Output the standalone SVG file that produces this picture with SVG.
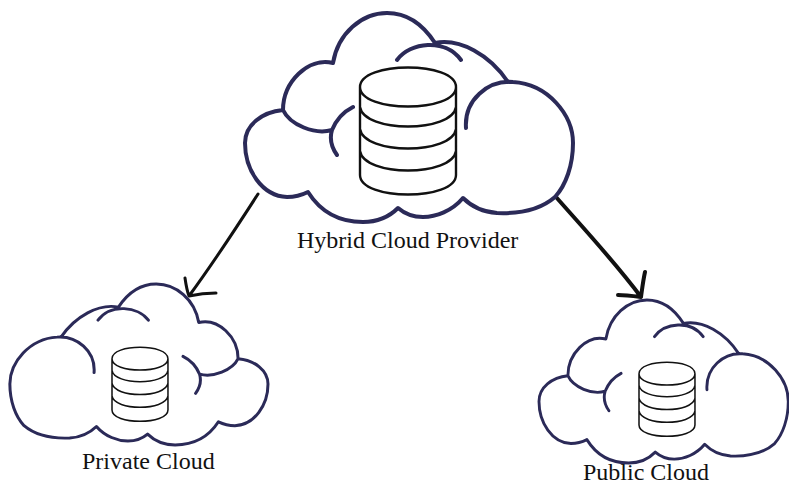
<svg xmlns="http://www.w3.org/2000/svg" width="789" height="485" viewBox="0 0 789 485">
<style>
.cl{fill:none;stroke:#2b2a58;stroke-linecap:round;stroke-linejoin:round}
.db{fill:none;stroke:#111;stroke-linecap:round;stroke-linejoin:round}
.lb{font-family:"Liberation Serif","Times New Roman",serif;fill:#111;font-size:24px}
.ar{fill:none;stroke:#111;stroke-linecap:round;stroke-linejoin:round}
</style>
<defs>
<path id="cloud" d="M283 110C283 82 308 57 333 63C338 33 362 13 387 13C408 13 424 26 435 43C460 38 490 55 508 82M466 128C464 100 488 80 513 82C548 84 573 115 573 143C573 165 566 185 555 197C540 210 520 214 497 213C483 212 472 207 463 198C452 211 436 217 423 217C413 217 405 214 398 208C389 217 376 222 363 222C338 222 320 211 308 192C300 196 294 197 287 197C262 196 245 170 245 143C245 125 262 112 283 110C290 125 315 135 332 130C337 118 345 111 353 107M332 130C329 140 332 148 337 155M397 60C410 42 445 38 461 60"/>
<path id="db" d="M0 20C0 -6 96 -6 96 20C96 46 0 46 0 20ZM0 20V108C0 134 96 134 96 108V20M0 40C4 66 92 66 96 40M0 62C4 88 92 88 96 62M0 84C4 110 92 110 96 84"/>
</defs>
<rect width="789" height="485" fill="#fff"/>
<g id="connectors">
<path class="ar" stroke-width="3" d="M258 194C240 222 214 262 189 296M185 278C186 285 187 291 189 296C198 294 208 293 216 293"/>
<path class="ar" stroke-width="4" d="M556 197C585 230 615 262 641 297M645 272C643 281 642 290 641 297C633 296 625 295 618 295"/>
</g>
<g id="hybrid">
<use href="#cloud" class="cl" stroke-width="4"/>
<use href="#db" class="db" stroke-width="2.4" transform="translate(360 67)"/>
<text class="lb" x="297" y="248">Hybrid Cloud Provider</text>
</g>
<g id="private">
<use href="#cloud" class="cl" stroke-width="3.8" transform="translate(268 284) scale(-.787 .77) translate(-245 -13)"/>
<use href="#db" class="db" stroke-width="2.6" transform="translate(112 347) scale(.583)"/>
<text class="lb" x="82" y="469">Private Cloud</text>
</g>
<g id="public">
<use href="#cloud" class="cl" stroke-width="3.8" transform="translate(539 300) scale(.76 .78) translate(-245 -13)"/>
<use href="#db" class="db" stroke-width="2.6" transform="translate(639 362) scale(.583)"/>
<text class="lb" x="583" y="479.5">Public Cloud</text>
</g>
</svg>
